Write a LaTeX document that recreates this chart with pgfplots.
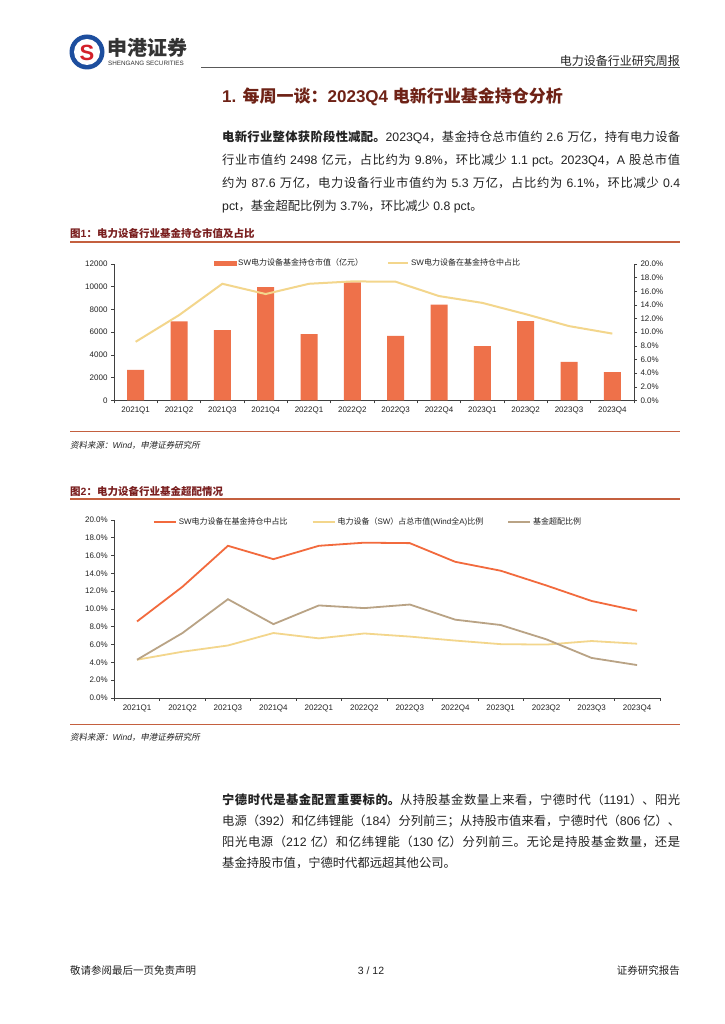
\documentclass[border=0pt]{standalone}
\usepackage{pgfplots}
\pgfplotsset{compat=1.18}
\usepackage{fontspec}
\setmainfont{Liberation Sans}
\newfontfamily\cjk{Noto Sans CJK SC}[ItalicFont={Noto Sans CJK SC},ItalicFeatures={FakeSlant=0.2}]
\XeTeXinterchartokenstate=1
\newXeTeXintercharclass\CJKcls
\makeatletter
\def\setcjkrange#1#2{\count@=#1\relax\loop\XeTeXcharclass\count@=\CJKcls\relax\ifnum\count@<#2\relax\advance\count@ by 1\relax\repeat}
\makeatother
\setcjkrange{"4E00}{"9FFF}
\setcjkrange{"3000}{"303F}
\setcjkrange{"FF00}{"FFEF}
\XeTeXinterchartoks 0 \CJKcls = {\cjk}
\XeTeXinterchartoks 4095 \CJKcls = {\cjk}
\XeTeXinterchartoks \CJKcls 0 = {\rmfamily}
\XeTeXinterchartoks \CJKcls 4095 = {\rmfamily}
\XeTeXlinebreaklocale "zh"
\XeTeXlinebreakskip=0pt plus 1.5pt

\definecolor{barc}{HTML}{EE714A}
\definecolor{linec}{HTML}{F3D68C}
\definecolor{orl}{HTML}{F26A3D}
\definecolor{tanc}{HTML}{B9A385}
\definecolor{titlec}{HTML}{6E2216}
\definecolor{figtc}{HTML}{7A1F1F}
\definecolor{rulec}{HTML}{C4603F}
\definecolor{axisc}{HTML}{404040}
\definecolor{txt}{HTML}{222222}
\definecolor{logoblue}{HTML}{1D4E9E}
\definecolor{logored}{HTML}{D3202A}

\pgfplotsset{
  commonax/.style={
    scale only axis, anchor=south west,
    xmin=-0.5, xmax=11.5,
    xtick={-0.5,0.5,...,11.5},
    x tick label as interval,
    xticklabels={2021Q1,2021Q2,2021Q3,2021Q4,2022Q1,2022Q2,2022Q3,2022Q4,2023Q1,2023Q2,2023Q3,2023Q4},
    tick align=outside, major tick length=3pt,
    axis line style={axisc, line width=0.8pt},
    every tick/.style={axisc, line width=0.6pt},
    tick label style={font=\fontsize{8}{8}\selectfont, text=txt},
    /pgf/number format/assume math mode=true,
    /pgf/number format/1000 sep={},
    scaled y ticks=false,
    legend columns=-1,
    legend cell align=left,
    legend style={draw=none, fill=none, inner sep=0pt, outer sep=0pt, anchor=west,
      font=\fontsize{8}{8}\selectfont, text=txt,
      nodes={inner sep=2pt},
      /tikz/every even column/.append style={column sep=22pt}},
  },
  pctticks/.style={ymin=0, ymax=20, ytick={0,2,...,20},
    yticklabel={\pgfmathprintnumber[fixed,fixed zerofill,precision=1]{\tick}\%}},
}

\begin{document}
\begin{tikzpicture}[x=1pt,y=1pt]
\fill[white] (0,0) rectangle (724,1024);
\path[use as bounding box] (0,0) rectangle (724,1024);

% header
\fill[logoblue] (87,972) circle (17.5);
\fill[white] (87,972) circle (13);
\node[text=logored,font=\fontsize{22}{22}\selectfont\bfseries] at (87,971.5) {S};
\node[anchor=west,inner sep=0,font=\fontsize{20}{20}\selectfont\bfseries,text=black!80] at (107,976) {申港证券};
\node[anchor=west,inner sep=0,font=\fontsize{6.3}{6.3}\selectfont,text=black!80] at (108,961) {SHENGANG SECURITIES};
\node[anchor=east,inner sep=0,font=\fontsize{12}{12}\selectfont,text=txt] at (680,963) {电力设备行业研究周报};
\draw[black!65,line width=1.2pt] (201,956.5) -- (680,956.5);

% title
\node[anchor=west,inner sep=0,font=\fontsize{17}{17}\selectfont\bfseries,text=titlec] at (222,927) {1. 每周一谈：2023Q4 电新行业基金持仓分析};

% paragraph 1
\node[anchor=north west,inner sep=0,text width=458pt,align=justify,font=\fontsize{12.3}{23}\selectfont,text=txt] at (222,893) {{\bfseries 电新行业整体获阶段性减配。}2023Q4，基金持仓总市值约 2.6 万亿，持有电力设备\linebreak
行业市值约 2498 亿元，占比约为 9.8\%，环比减少 1.1 pct。2023Q4，A 股总市值\linebreak
约为 87.6 万亿，电力设备行业市值约为 5.3 万亿，占比约为 6.1\%，环比减少 0.4\linebreak
pct，基金超配比例为 3.7\%，环比减少 0.8 pct。};

% figure 1
\node[anchor=west,inner sep=0,font=\fontsize{10.5}{10.5}\selectfont\bfseries,text=figtc] at (70,791) {图1：电力设备行业基金持仓市值及占比};
\draw[rulec,line width=1.3pt] (70,782) -- (680,782);

\begin{axis}[commonax, at={(114pt,623.5pt)}, width=520pt, height=136.5pt,
  ymin=0, ymax=12000, ytick={0,2000,...,12000},
  axis x line*=bottom, axis y line*=left,
  ybar, bar width=17pt]
\addplot[fill=barc, draw=none] coordinates {
(0,2700) (1,6950) (2,6190) (3,9970) (4,5840) (5,10380)
(6,5680) (7,8420) (8,4780) (9,6980) (10,3400) (11,2498)};
\end{axis}

\begin{axis}[commonax, at={(114pt,623.5pt)}, width=520pt, height=136.5pt,
  pctticks, axis y line*=right, axis x line=none,
  legend style={at={(0.192,1.007)}}]
\addlegendimage{legend image code/.code={\fill[barc] (0pt,-2pt) rectangle (22pt,2pt);}}
\addlegendentry{SW电力设备基金持仓市值（亿元）}
\addplot[linec, line width=2pt, legend image code/.code={\draw[linec,line width=2pt] (0pt,0pt) -- (20pt,0pt);}] coordinates {
(0,8.6) (1,12.5) (2,17.1) (3,15.6) (4,17.1) (5,17.45)
(6,17.4) (7,15.3) (8,14.3) (9,12.65) (10,10.9) (11,9.8)};
\addlegendentry{SW电力设备在基金持仓中占比}
\end{axis}

\draw[rulec,line width=1pt] (70,592) -- (680,592);
\node[anchor=west,inner sep=0,font=\fontsize{8.5}{8.5}\selectfont\itshape,text=txt] at (70,579) {资料来源：Wind，申港证券研究所};

% figure 2
\node[anchor=west,inner sep=0,font=\fontsize{10.5}{10.5}\selectfont\bfseries,text=figtc] at (70,533) {图2：电力设备行业基金超配情况};
\draw[rulec,line width=1.3pt] (70,525) -- (680,525);

\begin{axis}[commonax, at={(114.3pt,326pt)}, width=545.5pt, height=178pt,
  pctticks, axis x line*=bottom, axis y line*=left,
  legend style={at={(0.071,0.989)}},
  legend image code/.code={\draw[#1] (0pt,0pt) -- (22pt,0pt);}]
\addplot[orl, line width=1.8pt] coordinates {
(0,8.6) (1,12.5) (2,17.1) (3,15.6) (4,17.1) (5,17.45)
(6,17.4) (7,15.3) (8,14.3) (9,12.65) (10,10.9) (11,9.8)};
\addlegendentry{SW电力设备在基金持仓中占比}
\addplot[linec, line width=1.8pt] coordinates {
(0,4.3) (1,5.2) (2,5.9) (3,7.3) (4,6.7) (5,7.25)
(6,6.9) (7,6.45) (8,6.05) (9,6.0) (10,6.4) (11,6.1)};
\addlegendentry{电力设备（SW）占总市值(Wind全A)比例}
\addplot[tanc, line width=1.8pt] coordinates {
(0,4.3) (1,7.3) (2,11.1) (3,8.3) (4,10.4) (5,10.1)
(6,10.5) (7,8.8) (8,8.2) (9,6.6) (10,4.5) (11,3.7)};
\addlegendentry{基金超配比例}
\end{axis}

\draw[rulec,line width=1pt] (70,299) -- (680,299);
\node[anchor=west,inner sep=0,font=\fontsize{8.5}{8.5}\selectfont\itshape,text=txt] at (70,287) {资料来源：Wind，申港证券研究所};

% paragraph 2
\node[anchor=north west,inner sep=0,text width=458pt,align=justify,font=\fontsize{12.3}{21}\selectfont,text=txt] at (222,230) {{\bfseries 宁德时代是基金配置重要标的。}从持股基金数量上来看，宁德时代（1191）、阳光\linebreak
电源（392）和亿纬锂能（184）分列前三；从持股市值来看，宁德时代（806 亿）、\linebreak
阳光电源（212 亿）和亿纬锂能（130 亿）分列前三。无论是持股基金数量，还是\linebreak
基金持股市值，宁德时代都远超其他公司。};

% footer
\node[anchor=west,inner sep=0,font=\fontsize{10.5}{10.5}\selectfont,text=txt] at (70,53) {敬请参阅最后一页免责声明};
\node[inner sep=0,font=\fontsize{10.5}{10.5}\selectfont,text=txt] at (371,53) {3 / 12};
\node[anchor=east,inner sep=0,font=\fontsize{10.5}{10.5}\selectfont,text=txt] at (680,53) {证券研究报告};
\end{tikzpicture}
\end{document}
